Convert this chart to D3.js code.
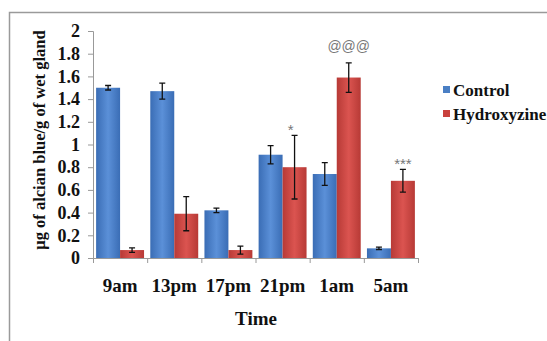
<html>
<head>
  <meta charset="UTF-8">
  <title>Alcian blue chart</title>
  <script src="https://cdn.jsdelivr.net/npm/d3@7"></script>
  <style>
    body { margin: 0; background: #fff; }
    text { font-family: "Liberation Serif", "Times New Roman", serif; font-weight: bold; }
  </style>
</head>
<body>
  <div id="chart"></div>
  <script>
  // ---- data ----
  var times = ["9am", "13pm", "17pm", "21pm", "1am", "5am"];
  var seriesNames = ["Control", "Hydroxyzine"];
  var controlVals = [1.50, 1.47, 0.42, 0.91, 0.74, 0.085];
  var controlErr = [0.02, 0.07, 0.02, 0.08, 0.10, 0.01];
  var hydroxyVals = [0.07, 0.39, 0.07, 0.80, 1.59, 0.68];
  var hydroxyErr = [0.02, 0.15, 0.035, 0.28, 0.13, 0.10];
  var marks = ["", "", "", "*", "@@@", "***"];
  var yTicks = [0, 0.2, 0.4, 0.6, 0.8, 1, 1.2, 1.4, 1.6, 1.8, 2];

  var W = 547, H = 341;
  var svg = d3.select("#chart").append("svg").attr("width", W).attr("height", H);

  // gradients for the bars
  var defs = svg.append("defs");
  function grad(id, edge, mid) {
    var g = defs.append("linearGradient").attr("id", id).attr("x1", "0").attr("x2", "1").attr("y1", "0").attr("y2", "0");
    g.append("stop").attr("offset", "0%").attr("stop-color", edge);
    g.append("stop").attr("offset", "50%").attr("stop-color", mid);
    g.append("stop").attr("offset", "100%").attr("stop-color", edge);
  }
  grad("gBlue", "#3a6db5", "#5b90d8");
  grad("gRed", "#b73a36", "#db5450");
  var fills = ["url(#gBlue)", "url(#gRed)"];
  var legendFill = ["#4a7fc4", "#c9413d"];

  // outer frame
  svg.append("rect").attr("x", 9.5).attr("y", 12.5).attr("width", W + 10).attr("height", H + 10)
    .attr("fill", "none").attr("stroke", "#9a9a9a").attr("stroke-width", 1.5);

  var x0 = d3.scaleBand().domain(times).range([93, 418]).paddingInner(0).paddingOuter(0);
  var x1 = d3.scaleBand().domain(seriesNames).range([0, x0.bandwidth()]).paddingOuter(0.13).paddingInner(0);
  var y = d3.scaleLinear().domain([0, 2]).range([258, 31]);

  // y axis
  var yAxis = svg.append("g").attr("transform", "translate(93,0)")
    .call(d3.axisLeft(y).tickValues(yTicks).tickSize(5).tickPadding(8)
      .tickFormat(function (d) { return d3.format("")(+d.toFixed(1)); }));
  yAxis.selectAll("path, line").attr("stroke", "#999");
  yAxis.selectAll("text").attr("font-size", 18).attr("fill", "#111")
    .style("font-family", "'Liberation Serif', serif").style("font-weight", "bold");

  // x axis with ticks at category boundaries
  var xa = svg.append("g");
  xa.append("line").attr("x1", 93).attr("x2", 418).attr("y1", y(0) + 0.5).attr("y2", y(0) + 0.5).attr("stroke", "#999");
  var bounds = times.map(function (t) { return x0(t); }).concat([x0.range()[1]]);
  xa.selectAll(".xt").data(bounds).enter().append("line")
    .attr("x1", function (d) { return d + 0.5; }).attr("x2", function (d) { return d + 0.5; })
    .attr("y1", y(0)).attr("y2", y(0) + 5).attr("stroke", "#999");
  xa.selectAll(".xl").data(times).enter().append("text")
    .attr("x", function (d) { return x0(d) + x0.bandwidth() / 2; })
    .attr("y", 292).attr("text-anchor", "middle").attr("font-size", 19).attr("fill", "#111")
    .text(function (d) { return d; });

  // bars
  var rows = times.map(function (t, i) {
    return [
      { t: t, s: 0, v: controlVals[i], e: controlErr[i] },
      { t: t, s: 1, v: hydroxyVals[i], e: hydroxyErr[i] }
    ];
  });
  var groups = svg.selectAll(".grp").data(rows).enter().append("g")
    .attr("transform", function (d) { return "translate(" + x0(d[0].t) + ",0)"; });
  var items = groups.selectAll(".bar").data(function (d) { return d; }).enter();
  items.append("rect")
    .attr("x", function (d) { return x1(seriesNames[d.s]); })
    .attr("width", x1.bandwidth())
    .attr("y", function (d) { return y(d.v); })
    .attr("height", function (d) { return y(0) - y(d.v); })
    .attr("fill", function (d) { return fills[d.s]; });

  // error bars
  var cap = 3;
  items.append("path")
    .attr("d", function (d) {
      var cx = x1(seriesNames[d.s]) + x1.bandwidth() / 2;
      var top = y(d.v + d.e), bot = y(d.v - d.e);
      return "M" + cx + "," + top + "V" + bot +
        "M" + (cx - cap) + "," + top + "H" + (cx + cap) +
        "M" + (cx - cap) + "," + bot + "H" + (cx + cap);
    })
    .attr("stroke", "#111").attr("stroke-width", 1.3).attr("fill", "none");

  // significance marks above hydroxyzine error bars
  svg.selectAll(".mark").data(times).enter().append("text")
    .attr("x", function (d, i) { return x0(d) + x1("Hydroxyzine") + x1.bandwidth() / 2 - (marks[i] === "*" ? 4 : 0); })
    .attr("y", function (d, i) { return y(hydroxyVals[i] + hydroxyErr[i]) - (marks[i] === "@@@" ? 12 : 0); })
    .attr("text-anchor", "middle")
    .attr("font-size", function (d, i) { return marks[i] === "@@@" ? 14 : 15; })
    .attr("fill", "#777").style("font-weight", "normal")
    .style("font-family", "'Liberation Sans', Arial, sans-serif")
    .text(function (d, i) { return marks[i]; });

  // axis titles
  svg.append("text").attr("transform", "translate(45,140) rotate(-90)")
    .attr("text-anchor", "middle").attr("font-size", 16.5).attr("fill", "#111")
    .text("\u03bcg of alcian blue/g of wet gland");
  svg.append("text").attr("x", 256).attr("y", 325).attr("text-anchor", "middle")
    .attr("font-size", 19).attr("fill", "#111").text("Time");

  // legend
  var lg = svg.selectAll(".lg").data(seriesNames).enter().append("g")
    .attr("transform", function (d, i) { return "translate(443," + (86 + i * 24) + ")"; });
  lg.append("rect").attr("width", 7).attr("height", 7).attr("fill", function (d, i) { return legendFill[i]; });
  lg.append("text").attr("x", 10).attr("y", 10).attr("font-size", 17).attr("fill", "#111")
    .text(function (d) { return d; });
  </script>
</body>
</html>
